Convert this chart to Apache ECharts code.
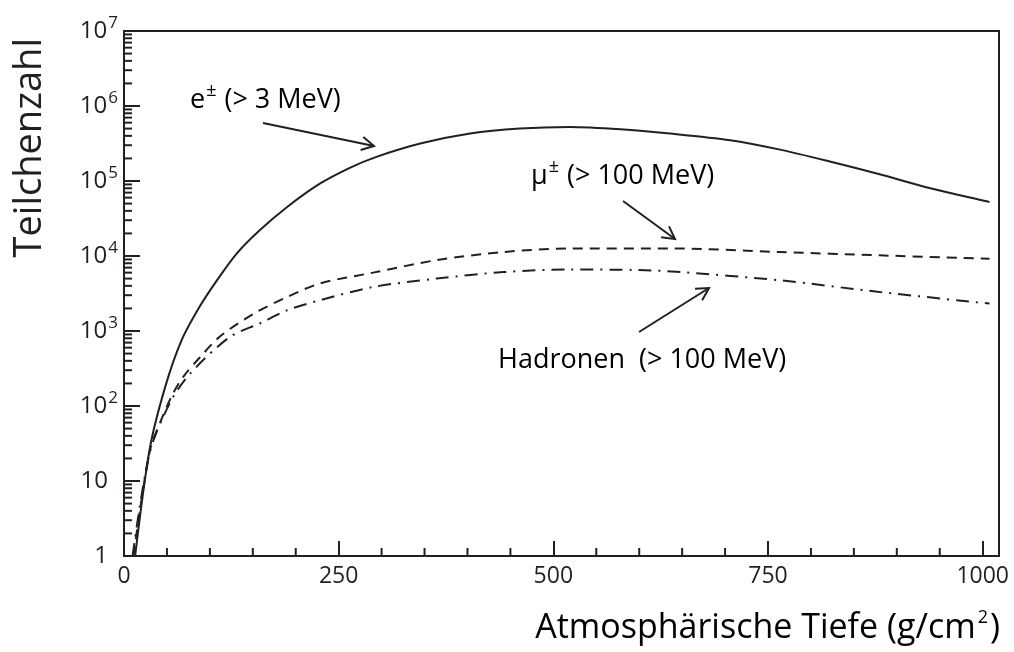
<!DOCTYPE html>
<html>
<head>
<meta charset="utf-8">
<script src="https://cdn.jsdelivr.net/npm/echarts@6/dist/echarts.min.js"></script>
<style>
  html, body { margin: 0; padding: 0; background: #fff; }
  #chart { width: 1014px; height: 652px; }
</style>
</head>
<body>
<div id="chart"></div>
<script>
// Atmospheric depth (g/cm^2) and particle counts of an air shower
const depthElectrons = [13, 30, 48, 67, 88, 108, 131, 158, 190, 228, 263, 294, 345, 403, 461, 519, 578, 636, 706, 764, 822, 880, 939, 1008];
const electrons = [1, 27, 180, 750, 2100, 4700, 10700, 22000, 45000, 92000, 150000, 210000, 316000, 430000, 500000, 525000, 490000, 430000, 350000, 262000, 182000, 123000, 80000, 52500];

const depthMuons = [11, 30, 43, 57, 69, 88, 112, 151, 190, 228, 290, 364, 442, 519, 636, 764, 880, 1008];
const muons = [1, 25, 64, 146, 245, 440, 850, 1700, 2840, 4300, 6000, 8800, 11300, 12600, 12600, 11300, 10200, 9200];

const depthHadrons = [10, 30, 54, 77, 123, 158, 190, 228, 290, 364, 442, 519, 600, 648, 764, 880, 1008];
const hadrons = [1, 24, 113, 270, 830, 1260, 1890, 2570, 3860, 5000, 6100, 6600, 6500, 6100, 4740, 3310, 2320];

// Axis ticks
const xMajorTicks = [0, 250, 500, 750, 1000];
const xMinorTicks = [50, 100, 150, 200, 300, 350, 400, 450, 550, 600, 650, 700, 800, 850, 900, 950];
const yDecades = [0, 1, 2, 3, 4, 5, 6];
const yMinorFactors = [2, 3, 4, 5, 6, 7, 8, 9];

const INK = '#231f20';
const FONT = '"Open Sans", "Noto Sans", sans-serif';

const pairs = (xs, ys) => xs.map((x, i) => [x, ys[i]]);
const yMinorTicks = [];
yDecades.forEach(k => yMinorFactors.forEach(m => yMinorTicks.push([0, m * Math.pow(10, k)])));
const xMinorData = xMinorTicks.map(v => [v, 1]);

// open arrow: shaft plus two arms at the tip
function arrow(x1, y1, x2, y2) {
  const a = Math.atan2(y2 - y1, x2 - x1);
  const L = 14, da = 0.5;
  const p1 = [x2 - L * Math.cos(a - da), y2 - L * Math.sin(a - da)];
  const p2 = [x2 - L * Math.cos(a + da), y2 - L * Math.sin(a + da)];
  return [
    { type: 'line', shape: { x1, y1, x2, y2 }, style: { stroke: INK, lineWidth: 2 } },
    { type: 'polyline', shape: { points: [p1, [x2, y2], p2] }, style: { stroke: INK, lineWidth: 2, fill: null } }
  ];
}

const annRich = {
  t: { fontFamily: FONT, fontSize: 27, color: INK },
  s: { fontFamily: FONT, fontSize: 18, color: INK, padding: [0, 8, 18, 1] }
};

const chart = echarts.init(document.getElementById('chart'), null, { renderer: 'canvas' });

chart.setOption({
  animation: false,
  backgroundColor: '#fff',
  grid: {
    left: 124, top: 31, right: 15, bottom: 96,
    show: true, borderColor: INK, borderWidth: 2, backgroundColor: 'transparent'
  },
  xAxis: {
    type: 'value', min: 0, max: 1019, interval: 250,
    splitLine: { show: false },
    axisLine: { show: true, onZero: false, lineStyle: { color: INK, width: 2 } },
    axisTick: { show: true, inside: true, length: 15, customValues: xMajorTicks, lineStyle: { color: INK, width: 2 } },
    axisLabel: {
      customValues: xMajorTicks, margin: 9,
      formatter: v => String(v),
      fontFamily: FONT, fontSize: 23, color: INK
    }
  },
  yAxis: {
    type: 'log', logBase: 10, min: 1, max: 1e7,
    splitLine: { show: false },
    axisLine: { show: true, lineStyle: { color: INK, width: 2 } },
    axisTick: { show: true, inside: true, length: 16, lineStyle: { color: INK, width: 2 } },
    axisLabel: {
      margin: 6,
      formatter: v => {
        const k = Math.round(Math.log10(v));
        if (k === 0) return '{b|1}{p|}';
        if (k === 1) return '{b|10}{p|}';
        return '{b|10}{s|' + k + '}';
      },
      rich: {
        b: { fontFamily: FONT, fontSize: 24, color: INK },
        s: { fontFamily: FONT, fontSize: 17, color: INK, padding: [0, 0, 15, 1] },
        p: { width: 10 }
      }
    }
  },
  series: [
    {
      name: 'e±', type: 'line', data: pairs(depthElectrons, electrons),
      symbol: 'none', smooth: 0.3, lineStyle: { color: INK, width: 2 }
    },
    {
      name: 'μ±', type: 'line', data: pairs(depthMuons, muons),
      symbol: 'none', smooth: 0.3, lineStyle: { color: INK, width: 2, type: [10, 7] }
    },
    {
      name: 'Hadronen', type: 'line', data: pairs(depthHadrons, hadrons),
      symbol: 'none', smooth: 0.3, lineStyle: { color: INK, width: 2, type: [13, 7, 2, 7] }
    },
    {
      // minor ticks on the logarithmic y axis (2..9 in each decade)
      type: 'custom', silent: true, clip: false, data: yMinorTicks,
      renderItem: (params, api) => {
        const p = api.coord([0, api.value(1)]);
        return { type: 'line', shape: { x1: p[0], y1: p[1], x2: p[0] + 8, y2: p[1] }, style: { stroke: INK, lineWidth: 2 } };
      }
    },
    {
      // minor ticks on the depth axis every 50 g/cm^2
      type: 'custom', silent: true, clip: false, data: xMinorData,
      renderItem: (params, api) => {
        const p = api.coord([api.value(0), 1]);
        return { type: 'line', shape: { x1: p[0], y1: p[1], x2: p[0], y2: p[1] - 8 }, style: { stroke: INK, lineWidth: 2 } };
      }
    }
  ],
  graphic: [
    // axis titles
    {
      type: 'text', x: 1000, y: 628,
      style: {
        text: '{t|Atmosphärische Tiefe (g/cm}{s|2}{t|)}',
        align: 'right', verticalAlign: 'middle',
        rich: {
          t: { fontFamily: FONT, fontSize: 34, color: INK },
          s: { fontFamily: FONT, fontSize: 18, color: INK, padding: [0, 2, 20, 2] }
        }
      }
    },
    {
      type: 'text', x: 30, y: 38, rotation: Math.PI / 2,
      style: {
        text: 'Teilchenzahl', align: 'right', verticalAlign: 'middle',
        fontFamily: FONT, fontSize: 38, fill: INK
      }
    },
    // curve annotations
    {
      type: 'text', x: 190, y: 100,
      style: { text: '{t|e}{s|±}{t|(> 3 MeV)}', align: 'left', verticalAlign: 'middle', rich: annRich }
    },
    {
      type: 'text', x: 531, y: 176,
      style: { text: '{t|μ}{s|±}{t|(> 100 MeV)}', align: 'left', verticalAlign: 'middle', rich: annRich }
    },
    {
      type: 'text', x: 498, y: 360,
      style: { text: '{t|Hadronen  (> 100 MeV)}', align: 'left', verticalAlign: 'middle', rich: annRich }
    },
    ...arrow(263, 123, 374, 146),
    ...arrow(623, 201, 675, 239),
    ...arrow(639, 332, 709, 288)
  ]
});
</script>
</body>
</html>
